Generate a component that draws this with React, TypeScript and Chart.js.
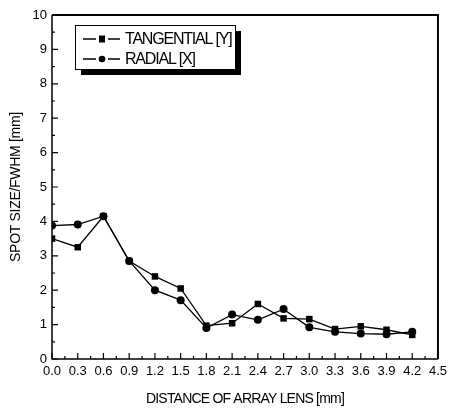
import React, { useEffect, useRef } from "react";
import { Chart, registerables } from "chart.js";

Chart.register(...registerables);

const xValues = [0, 0.3, 0.6, 0.9, 1.2, 1.5, 1.8, 2.1, 2.4, 2.7, 3.0, 3.3, 3.6, 3.9, 4.2];
const tangential = [3.5, 3.25, 4.15, 2.85, 2.4, 2.05, 0.97, 1.04, 1.6, 1.18, 1.16, 0.87, 0.95, 0.85, 0.7];
const radial = [3.88, 3.91, 4.15, 2.85, 2.0, 1.71, 0.9, 1.29, 1.14, 1.45, 0.92, 0.79, 0.74, 0.72, 0.79];
const seriesNames = ["TANGENTIAL [Y]", "RADIAL [X]"];
const xTickValues = [0, 0.3, 0.6, 0.9, 1.2, 1.5, 1.8, 2.1, 2.4, 2.7, 3.0, 3.3, 3.6, 3.9, 4.2, 4.5];
const yTickValues = [0, 1, 2, 3, 4, 5, 6, 7, 8, 9, 10];
const xTitle = "DISTANCE OF ARRAY LENS [mm]";
const yTitle = "SPOT SIZE/FWHM [mm]";

const SANS = "'Liberation Sans', Arial, sans-serif";

const framePlugin = {
  id: "frameTicks",
  afterDraw(chart: any) {
    const { ctx, chartArea } = chart;
    const { left, right, top, bottom } = chartArea;
    const xs = chart.scales.x;
    const ys = chart.scales.y;
    ctx.save();
    ctx.strokeStyle = "#000";
    // inward ticks
    ctx.lineWidth = 1.2;
    ctx.beginPath();
    xTickValues.forEach((v, i) => {
      const px = xs.getPixelForValue(v);
      ctx.moveTo(px, bottom);
      ctx.lineTo(px, bottom - 6);
      if (i < xTickValues.length - 1) {
        const mv = (v + xTickValues[i + 1]) / 2;
        const mp = xs.getPixelForValue(mv);
        ctx.moveTo(mp, bottom);
        ctx.lineTo(mp, bottom - 3);
      }
    });
    yTickValues.forEach((v, i) => {
      const py = ys.getPixelForValue(v);
      ctx.moveTo(left, py);
      ctx.lineTo(left + 6, py);
      if (i < yTickValues.length - 1) {
        const mv = (v + yTickValues[i + 1]) / 2;
        const mp = ys.getPixelForValue(mv);
        ctx.moveTo(left, mp);
        ctx.lineTo(left + 3, mp);
      }
    });
    ctx.stroke();
    // frame
    ctx.lineWidth = 1.5;
    ctx.beginPath();
    ctx.moveTo(left, top);
    ctx.lineTo(left, bottom);
    ctx.lineTo(right, bottom);
    ctx.stroke();
    ctx.lineWidth = 2;
    ctx.beginPath();
    ctx.moveTo(left, top);
    ctx.lineTo(right, top);
    ctx.lineTo(right, bottom);
    ctx.stroke();

    // axis titles
    ctx.fillStyle = "#000";
    ctx.font = `14px ${SANS}`;
    ctx.textAlign = "center";
    ctx.textBaseline = "middle";
    (ctx as any).letterSpacing = "-0.8px";
    ctx.fillText(xTitle, (left + right) / 2, 399);
    (ctx as any).letterSpacing = "-0.3px";
    ctx.save();
    ctx.translate(16, (top + bottom) / 2);
    ctx.rotate(-Math.PI / 2);
    ctx.fillText(yTitle, 0, 0);
    ctx.restore();

    // boxed legend with shadow
    const bx = left + 23;
    const by = top + 10;
    const bw = 160;
    const bh = 44;
    ctx.fillStyle = "#000";
    ctx.fillRect(bx + 6, by + 6, bw, bh);
    ctx.fillStyle = "#fff";
    ctx.fillRect(bx, by, bw, bh);
    ctx.lineWidth = 1;
    ctx.strokeRect(bx + 0.5, by + 0.5, bw, bh);
    chart.data.datasets.forEach((ds: any, i: number) => {
      const ry = by + 14 + i * 20;
      const x0 = bx + 8;
      const x1 = bx + 45;
      const mx = bx + 27;
      ctx.lineWidth = 1.3;
      ctx.beginPath();
      ctx.moveTo(x0, ry);
      ctx.lineTo(mx - 6, ry);
      ctx.moveTo(mx + 6, ry);
      ctx.lineTo(x1, ry);
      ctx.stroke();
      ctx.fillStyle = "#000";
      if (ds.pointStyle === "rect") {
        ctx.fillRect(mx - 3, ry - 3.5, 6, 7);
      } else {
        ctx.beginPath();
        ctx.arc(mx, ry, 3.3, 0, Math.PI * 2);
        ctx.fill();
      }
      ctx.font = `16px ${SANS}`;
      (ctx as any).letterSpacing = "-1.2px";
      ctx.textBaseline = "middle";
      ctx.textAlign = "left";
      ctx.fillText(ds.label, bx + 50, ry + 1);
    });
    ctx.restore();
  },
};

export default function App() {
  const ref = useRef<HTMLCanvasElement | null>(null);
  useEffect(() => {
    document.body.style.margin = "0";
    const canvas = ref.current!;
    const chart = new Chart(canvas, {
      type: "line",
      data: {
        datasets: [
          {
            label: seriesNames[0],
            data: xValues.map((x, i) => ({ x, y: tangential[i] })),
            borderColor: "#000",
            backgroundColor: "#000",
            borderWidth: 1.3,
            pointStyle: "rect",
            pointRadius: 4.6,
            pointBorderWidth: 0,
            tension: 0,
          },
          {
            label: seriesNames[1],
            data: xValues.map((x, i) => ({ x, y: radial[i] })),
            borderColor: "#000",
            backgroundColor: "#000",
            borderWidth: 1.3,
            pointStyle: "circle",
            pointRadius: 4,
            pointBorderWidth: 0,
            tension: 0,
          },
        ],
      },
      options: {
        animation: false,
        responsive: false,
        devicePixelRatio: 1,
        layout: { padding: { left: 0, right: 13, top: 15, bottom: 0 } },
        plugins: { legend: { display: false }, tooltip: { enabled: false } },
        scales: {
          x: {
            type: "linear",
            min: 0,
            max: 4.5,
            afterBuildTicks: (s: any) => {
              s.ticks = xTickValues.map((v) => ({ value: v }));
            },
            afterFit: (s: any) => {
              s.height = 49;
            },
            grid: { display: false, drawTicks: false },
            border: { display: false },
            ticks: {
              color: "#000",
              font: { family: SANS, size: 13 },
              padding: 5,
              maxRotation: 0,
              autoSkip: false,
              callback: (v: any) => Number(v).toFixed(1),
            },
          },
          y: {
            type: "linear",
            min: 0,
            max: 10,
            afterBuildTicks: (s: any) => {
              s.ticks = yTickValues.map((v) => ({ value: v }));
            },
            afterFit: (s: any) => {
              s.width = 52;
            },
            grid: { display: false, drawTicks: false },
            border: { display: false },
            ticks: {
              color: "#000",
              font: { family: SANS, size: 13 },
              padding: 5,
              autoSkip: false,
            },
          },
        },
      },
      plugins: [framePlugin],
    });
    return () => chart.destroy();
  }, []);
  return (
    <div style={{ position: "absolute", left: 0, top: 0, width: 452, height: 408, background: "#fff" }}>
      <canvas ref={ref} width={452} height={408} style={{ width: 452, height: 408 }} />
    </div>
  );
}
